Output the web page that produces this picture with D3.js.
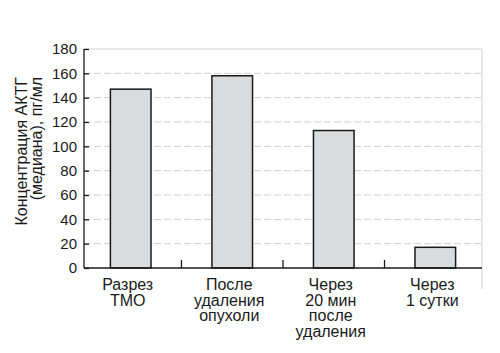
<!DOCTYPE html>
<html>
<head>
<meta charset="utf-8">
<script src="https://cdn.jsdelivr.net/npm/d3@7"></script>
<style>
  body { margin: 0; background: #fff; }
  text { font-family: "Liberation Sans", Arial, sans-serif; fill: #1a1a1a; }
</style>
</head>
<body>
<div id="chart"></div>
<script>
const width = 500, height = 353;

// data
const categories = ["Разрез ТМО", "После удаления опухоли", "Через 20 мин после удаления", "Через 1 сутки"];
const labelLines = [["Разрез", "ТМО"], ["После", "удаления", "опухоли"], ["Через", "20 мин", "после", "удаления"], ["Через", "1 сутки"]];
const values = [147, 158, 113, 17];
const yTicks = [0, 20, 40, 60, 80, 100, 120, 140, 160, 180];
const yTitle = ["Концентрация АКТГ", "(медиана), пг/мл"];

const margin = {top: 49, right: 18, bottom: 85, left: 84};

let svg = d3.select("#chart").append("svg")
    .attr("width", width)
    .attr("height", height);

let x = d3.scaleBand()
    .domain(categories)
    .range([margin.left, width - margin.right])
    .paddingInner(0.6)
    .paddingOuter(0.26);

let y = d3.scaleLinear()
    .domain([0, 180])
    .range([height - margin.bottom, margin.top]);

// grid
svg.append("g")
    .selectAll("line")
    .data(yTicks.filter(d => d > 0))
    .join("line")
        .attr("x1", margin.left)
        .attr("x2", width - margin.right)
        .attr("y1", d => y(d))
        .attr("y2", d => y(d))
        .attr("stroke", "#cfcfcf")
        .attr("stroke-width", 1)
        .attr("stroke-dasharray", d => d == 180 ? null : "7,3");

// right border, runs a bit below the axis
svg.append("line")
    .attr("x1", width - margin.right)
    .attr("x2", width - margin.right)
    .attr("y1", y(180))
    .attr("y2", y(0) + 21)
    .attr("stroke", "#cfcfcf")
    .attr("stroke-width", 1);

// bars
svg.append("g")
    .selectAll("rect")
    .data(values)
    .join("rect")
        .attr("x", (d, i) => x(categories[i]))
        .attr("width", x.bandwidth())
        .attr("y", d => y(d))
        .attr("height", d => y(0) - y(d))
        .attr("fill", "#dadbdd")
        .attr("stroke", "#1a1a1a")
        .attr("stroke-width", 1.5);

// y axis
let yAxis = g => g
    .attr("transform", `translate(${margin.left},0)`)
    .call(d3.axisRight(y).tickValues(yTicks).tickSize(5).tickFormat(d3.format("d")))
    .call(g => g.select(".domain").attr("d", `M0,${y(180)}V${y(0)}`).attr("stroke", "#1a1a1a").attr("stroke-width", 1.3))
    .call(g => g.selectAll(".tick line").attr("stroke", "#1a1a1a").attr("stroke-width", 1.3))
    .call(g => g.selectAll(".tick text")
        .attr("x", -7)
        .attr("text-anchor", "end")
        .attr("font-size", 15)
        .attr("font-family", null)
        .attr("fill", "#1a1a1a"));

svg.append("g").call(yAxis);

// x axis
let xAxis = g => g
    .attr("transform", `translate(0,${y(0)})`)
    .call(g => g.append("line")
        .attr("x1", margin.left)
        .attr("x2", width - margin.right)
        .attr("stroke", "#1a1a1a")
        .attr("stroke-width", 1.5))
    .call(g => g.selectAll(".sep")
        .data(categories.slice(1))
        .join("line")
            .attr("class", "sep")
            .attr("x1", d => x(d) - x.step() * x.paddingInner() / 2)
            .attr("x2", d => x(d) - x.step() * x.paddingInner() / 2)
            .attr("y1", 0)
            .attr("y2", -8)
            .attr("stroke", "#1a1a1a")
            .attr("stroke-width", 1.3))
    .call(g => g.selectAll(".lbl")
        .data(categories)
        .join("text")
            .attr("class", "lbl")
            .attr("text-anchor", "middle")
            .attr("font-size", 16)
            .attr("transform", d => `translate(${x(d) + x.bandwidth() / 2 - 3},22)`)
            .selectAll("tspan")
            .data((d, i) => labelLines[i])
            .join("tspan")
                .attr("x", 0)
                .attr("y", (d, i) => i * 15.6)
                .text(d => d));

svg.append("g").call(xAxis);

// y title
svg.append("text")
    .attr("transform", `translate(27,77) rotate(-90)`)
    .attr("text-anchor", "end")
    .attr("font-size", 16)
    .selectAll("tspan")
    .data(yTitle)
    .join("tspan")
        .attr("x", 0)
        .attr("y", (d, i) => i * 15)
        .text(d => d);
</script>
</body>
</html>
